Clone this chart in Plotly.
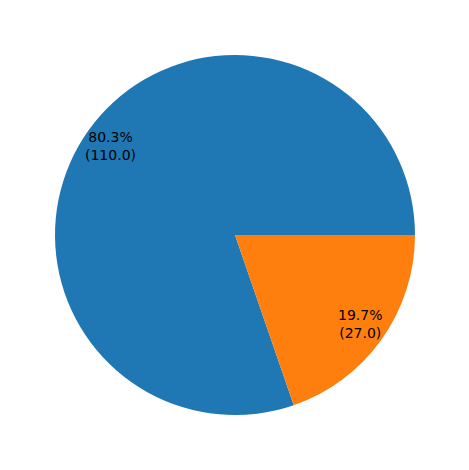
import numpy as np
import plotly.graph_objects as go

labels = ["A", "B"]
values = [110.0, 27.0]
colors = ["#1f77b4", "#ff7f0e"]

W, H = 469, 470
off = 8  # page body margin shifts the plot div
cx, cy, r = 235 - off, 235 - off, 180  # pie centre and radius in px
pctdist = 0.85

total = sum(values)
# plotly's counterclockwise mode anchors the first slice's end at `rotation`,
# so shift it so the first wedge starts at 3 o'clock like matplotlib
rot = 90 - 360 * values[0] / total

fig = go.Figure(go.Pie(
    labels=labels, values=values, sort=False,
    direction="counterclockwise", rotation=rot,
    marker=dict(colors=colors, line=dict(width=0)),
    textinfo="none", hoverinfo="label+value+percent",
    domain=dict(x=[(cx - r) / W, (cx + r) / W], y=[(H - cy - r) / H, (H - cy + r) / H]),
    showlegend=False,
))

# percentage labels, placed like matplotlib autopct
start = 0.0
for v in values:
    frac = v / total
    mid = np.deg2rad(start + frac * 360 / 2)
    start += frac * 360
    px_x = cx + pctdist * r * np.cos(mid)
    px_y = cy - pctdist * r * np.sin(mid)
    fig.add_annotation(
        x=px_x / W, y=1 - px_y / H, xref="paper", yref="paper",
        xanchor="center", yanchor="middle",
        text=f"{frac * 100:.1f}%<br>({v:.1f})", showarrow=False,
        font=dict(family="DejaVu Sans", size=14, color="black"),
        align="center",
    )

fig.update_layout(
    width=W, height=H, margin=dict(l=0, r=0, t=0, b=0),
    paper_bgcolor="white", plot_bgcolor="white",
)
fig.write_html("out.html")
